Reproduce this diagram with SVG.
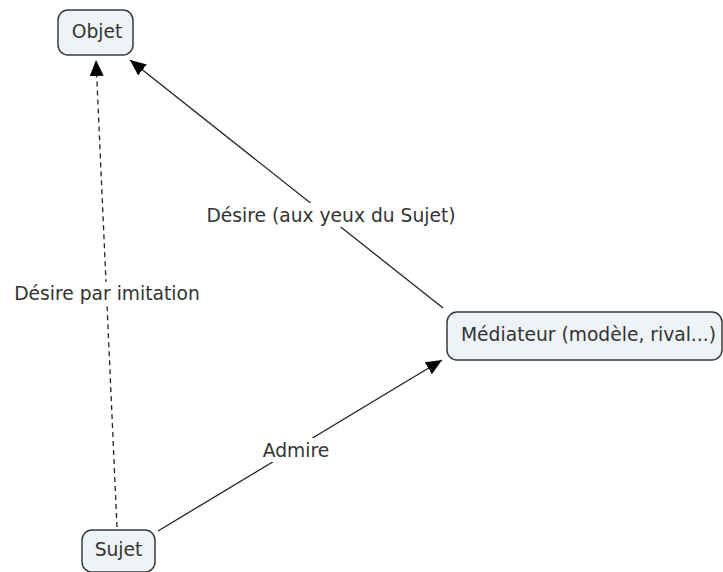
<svg xmlns="http://www.w3.org/2000/svg" width="723" height="572" viewBox="0 0 723 572">
<style>
.node rect{fill:#eef3f7;stroke:#3a3a3a;stroke-width:1.5}
text{font-family:"DejaVu Sans",Verdana,sans-serif;font-size:18.7px;fill:#333}
.edge{stroke:#222;stroke-width:1.3;fill:none}
.dash{stroke-dasharray:5,4}
.lbl{text-anchor:middle}
</style>
<defs>
<marker id="ah" markerWidth="16" markerHeight="14" refX="16" refY="7" orient="auto" markerUnits="userSpaceOnUse">
<path d="M0,0 L16,7 L0,14 z" fill="#000"/>
</marker>
</defs>
<rect width="723" height="572" fill="#fff"/>
<g id="connectors">
<path class="edge dash" d="M117,527 L96,60" marker-end="url(#ah)"/>
<path class="edge" d="M443,308 L130,60" marker-end="url(#ah)"/>
<path class="edge" d="M158,531 L442,360" marker-end="url(#ah)"/>
<rect x="10" y="282" width="194" height="24" fill="#fff"/>
<rect x="200" y="203" width="262" height="24" fill="#fff"/>
<rect x="260" y="438" width="72" height="24" fill="#fff"/>
<text class="lbl" x="107" y="300">Désire par imitation</text>
<text class="lbl" x="331" y="222">Désire (aux yeux du Sujet)</text>
<text class="lbl" x="296" y="457">Admire</text>
</g>
<g id="objet" class="node">
<rect x="58" y="10" width="75" height="45" rx="10"/>
<text class="lbl" x="97" y="38">Objet</text>
</g>
<g id="mediateur" class="node">
<rect x="447" y="312" width="275" height="48" rx="10"/>
<text x="461" y="341">Médiateur (modèle, rival...)</text>
</g>
<g id="sujet" class="node">
<rect x="82" y="530" width="73" height="42" rx="10"/>
<text class="lbl" x="118.5" y="556">Sujet</text>
</g>
</svg>
